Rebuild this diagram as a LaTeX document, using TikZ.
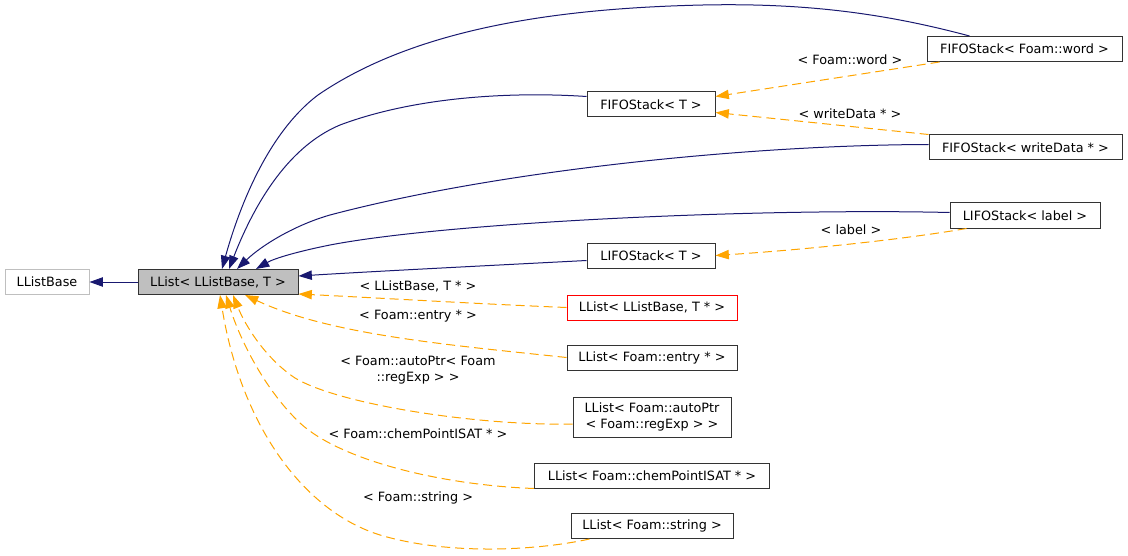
\documentclass[tikz,border=0pt]{standalone}
\usepackage{fontspec}
\setmainfont{DejaVu Sans}
\usepackage{xcolor}
\usepackage{tikz}
\usetikzlibrary{arrows.meta, calc}
\definecolor{biru}{HTML}{191970}
\definecolor{jingga}{HTML}{FFA500}
\definecolor{abu}{HTML}{BFBFBF}

\begin{document}
\begin{tikzpicture}[
    x=0.75pt, y=-0.75pt,
    font=\fontsize{9.6pt}{11.5pt}\selectfont,
    kotak/.style={draw=black!80, line width=0.75pt, minimum height=18.75pt,
                  inner sep=0pt, align=center},
    turunan/.style={-{Triangle[length=10pt, width=7pt]}, biru, line width=0.75pt},
    templat/.style={turunan, jingga, dash pattern=on 6.75pt off 3.75pt},
    ket/.style={align=center, inner sep=0pt}
  ]
    \useasboundingbox (0,0) rectangle (1128,556);
    \node[kotak, draw=abu, minimum width=63pt] (base) at (47,282) {LListBase};
    \node[kotak, fill=abu, minimum width=120pt] (llist) at (218,282) {LList< LListBase, T >};
    \node[kotak, minimum width=146.25pt] (word) at (1024.5,49) {FIFOStack< Foam::word >};
    \node[kotak, minimum width=96pt] (fifot) at (651,104.5) {FIFOStack< T >};
    \node[kotak, minimum width=144.75pt] (wd) at (1025.5,147.5) {FIFOStack< writeData * >};
    \node[kotak, minimum width=112.5pt] (lab) at (1025,215.5) {LIFOStack< label >};
    \node[kotak, minimum width=96pt] (lifot) at (651,255.5) {LIFOStack< T >};
    \node[kotak, draw=red, minimum width=127.5pt] (tp) at (652,307.5) {LList< LListBase, T * >};
    \node[kotak, minimum width=118.5pt, minimum height=30pt] (auto) at (652,417)
      {LList< Foam::autoPtr\\< Foam::regExp > >};
    \foreach \nm/\y/\w/\t in {entry/357.5/127.5/{LList< Foam::entry * >},
                              chem/475.5/176.25/{LList< Foam::chemPointISAT * >},
                              str/526/121.5/{LList< Foam::string >}} {
      \node[kotak, minimum width=\w pt] (\nm) at (652,\y) {\t};
    }

    \draw[turunan] (llist) -- (base);
    \draw[turunan] ($(word.north west)+(43,0)$) .. controls (880,12) and (800,3) .. (703,5)
      .. controls (570,8) and (420,25) .. (318,95)
      .. controls (265,135) and (237,215) .. ($(llist.north)+(4,0)$);
    \draw[turunan] ($(fifot.west)+(0,-8)$) .. controls (520,92) and (420,95) .. (340,125)
      .. controls (285,148) and (252,210) .. ($(llist.north)+(11,0)$);
    \draw[turunan] ($(wd.west)+(0,-3)$) .. controls (750,145) and (500,170) .. (330,215)
      .. controls (295,225) and (262,245) .. ($(llist.north)+(19,0)$);
    \draw[turunan] ($(lab.west)+(0,-3)$) .. controls (760,208) and (450,222) .. (330,245)
      .. controls (300,251) and (275,258) .. ($(llist.north)+(38,0)$);
    \draw[turunan] ($(lifot.west)+(0,5)$) .. controls (500,265) and (380,271) .. ($(llist.east)+(0,-6)$);

    \draw[templat] ($(word.south west)+(13,0)$) -- ($(fifot.east)+(0,-8)$);
    \draw[templat] (wd.north west) -- ($(fifot.east)+(0,8)$);
    \draw[templat] ($(lab.south west)+(17,0)$) .. controls (900,240) and (800,250) .. (lifot.east);
    \draw[templat] (tp.west) .. controls (480,304) and (380,298) .. ($(llist.east)+(0,12)$);
    \draw[templat] (entry.west) .. controls (450,345) and (330,335) .. ($(llist.south)+(27,0)$);
    \draw[templat] ($(auto.west)+(0,7)$) .. controls (480,426) and (340,405) .. (295,378)
      .. controls (265,358) and (245,325) .. ($(llist.south)+(15,0)$);
    \draw[templat] (chem.south west) .. controls (440,485) and (340,460) .. (300,423)
      .. controls (265,390) and (240,340) .. ($(llist.south)+(8,0)$);
    \draw[templat] ($(str.south west)+(19,0)$) .. controls (540,550) and (450,556) .. (380,535)
      .. controls (300,510) and (240,420) .. ($(llist.south)+(2,0)$);

    \node[ket] (kword) at (850,60) {< Foam::word >};
    \node[ket] (kwd) at (850,114) {< writeData * >};
    \node[ket] (klab) at (851,230) {< label >};
    \node[ket] (ktp) at (418,286) {< LListBase, T * >};
    \node[ket] (kentry) at (418,316) {< Foam::entry * >};
    \node[ket] (kauto) at (418,370) {< Foam::autoPtr< Foam\\::regExp > >};
    \node[ket] (kchem) at (418,434) {< Foam::chemPointISAT * >};
    \node[ket] (kstr) at (418,498) {< Foam::string >};
  \end{tikzpicture}
\end{document}
